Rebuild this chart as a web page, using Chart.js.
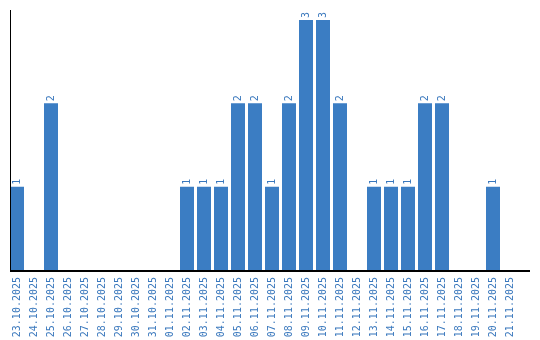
<!DOCTYPE html>
<html><head><meta charset="utf-8">
<script src="https://cdn.jsdelivr.net/npm/chart.js@4/dist/chart.umd.min.js"></script>
<style>html,body{margin:0;padding:0;background:#fff}#w{width:540px;height:340px}</style>
</head><body><div id="w"><canvas id="c"></canvas></div>
<script>
const categories = ["23.10.2025","24.10.2025","25.10.2025","26.10.2025","27.10.2025","28.10.2025","29.10.2025","30.10.2025","31.10.2025","01.11.2025","02.11.2025","03.11.2025","04.11.2025","05.11.2025","06.11.2025","07.11.2025","08.11.2025","09.11.2025","10.11.2025","11.11.2025","12.11.2025","13.11.2025","14.11.2025","15.11.2025","16.11.2025","17.11.2025","18.11.2025","19.11.2025","20.11.2025","21.11.2025"];
const counts = [1,0,2,0,0,0,0,0,0,0,1,1,1,2,2,1,2,3,3,2,0,1,1,1,2,2,0,0,1,0];
const yMax = 3.12;
const blue = '#3b7dc3';
const labelBlue = '#3a78bd';

const extras = {
  id: 'extras',
  afterDatasetsDraw(chart) {
    const ctx = chart.ctx, a = chart.chartArea;
    ctx.save();
    ctx.strokeStyle = '#000';
    ctx.lineWidth = 1;
    ctx.beginPath(); ctx.moveTo(10.5, 10); ctx.lineTo(10.5, a.bottom); ctx.stroke();
    ctx.lineWidth = 2;
    ctx.beginPath(); ctx.moveTo(10, a.bottom + 1); ctx.lineTo(530, a.bottom + 1); ctx.stroke();
    const meta = chart.getDatasetMeta(0);
    ctx.fillStyle = labelBlue;
    ctx.font = '10px "DejaVu Sans Mono"';
    ctx.textAlign = 'left';
    ctx.textBaseline = 'middle';
    meta.data.forEach((bar, i) => {
      const v = counts[i];
      if (!v) return;
      ctx.save();
      ctx.translate(bar.x, bar.y - 2);
      ctx.rotate(-Math.PI / 2);
      ctx.fillText(String(v), 0, 0);
      ctx.restore();
    });
    ctx.restore();
  }
};

new Chart(document.getElementById('c'), {
  type: 'bar',
  data: { labels: categories, datasets: [{ data: counts, backgroundColor: blue, borderWidth: 0, barPercentage: 14/17, categoryPercentage: 1 }] },
  options: {
    responsive: true, maintainAspectRatio: false, animation: false,
    devicePixelRatio: 1,
    layout: { padding: { left: 8.5, right: 21.5, top: 10, bottom: 0 } },
    plugins: { legend: { display: false }, tooltip: { enabled: false } },
    scales: {
      x: {
        grid: { display: false, drawTicks: false }, border: { display: false },
        ticks: { color: labelBlue, font: { family: 'DejaVu Sans Mono', size: 10 }, minRotation: 90, maxRotation: 90, autoSkip: false, padding: 7 },
        afterFit(s) { s.height = 70; }
      },
      y: {
        min: 0, max: yMax, display: true,
        grid: { display: false }, border: { display: false },
        ticks: { display: false },
        afterFit(s) { s.width = 0; }
      }
    }
  },
  plugins: [extras]
});
</script></body></html>
